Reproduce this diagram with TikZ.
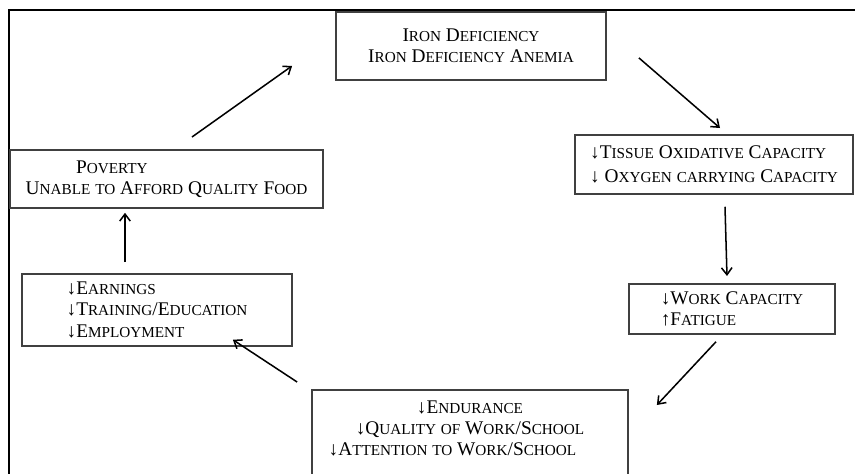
\documentclass[tikz,border=0pt]{standalone}
\usepackage{fontspec}
\setmainfont{Liberation Serif}
\usetikzlibrary{arrows.meta}
% capital letter, then the rest in smaller capitals
\newcommand\sck[2]{#1{\fontsize{13}{14}\selectfont #2}}

\begin{document}
\begin{tikzpicture}[x=0.03cm, y=-0.03cm,
  box/.style={draw=black!75, line width=1.5pt, inner sep=4pt, anchor=north,
    font=\fontsize{16.5}{18}\selectfont},
  arr/.style={-{Straight Barb[length=6pt,width=9pt]}, line width=1.3pt}]
\clip (0,0) rectangle (855,474);

% Frame
\draw[line width=2.2pt] (855,10) -- (9,10) -- (9,474);

% Boxes of the cycle
\node[box, minimum width=8.1cm, minimum height=2.04cm, align=center] (iron) at (471,11)
  {\sck{I}{RON} \sck{D}{EFICIENCY}\\ \sck{I}{RON} \sck{D}{EFICIENCY} \sck{A}{NEMIA}};
\node[box, minimum width=8.34cm, minimum height=1.77cm, align=left] (oxid) at (714,134)
  {↓\sck{T}{ISSUE} \sck{O}{XIDATIVE} \sck{C}{APACITY}\\[3pt]
   ↓ \sck{O}{XYGEN} \sck{}{CARRYING} \sck{C}{APACITY}};
\node[box, minimum width=6.18cm, minimum height=1.5cm, align=left] (work) at (732,283)
  {↓\sck{W}{ORK} \sck{C}{APACITY}\\ ↑\sck{F}{ATIGUE}};
\node[box, minimum width=9.48cm, align=center, inner ysep=9pt, text depth=30pt] (endur) at (470,389)
  {↓\sck{E}{NDURANCE}\\ ↓\sck{Q}{UALITY} \sck{}{OF} \sck{W}{ORK}/\sck{S}{CHOOL}\\
   ↓\sck{A}{TTENTION} \sck{}{TO} \sck{W}{ORK}/\sck{S}{CHOOL}\hspace*{30pt}};
\node[box, minimum width=8.1cm, minimum height=2.16cm, align=left] (earn) at (157,273)
  {↓\sck{E}{ARNINGS}\\ ↓\sck{T}{RAINING}/\sck{E}{DUCATION}\\ ↓\sck{E}{MPLOYMENT}};
\node[box, minimum width=9.39cm, minimum height=1.74cm, align=left] (poverty) at (166.5,149)
  {\hspace*{43pt}\sck{P}{OVERTY}\\
   \sck{U}{NABLE} \sck{}{TO} \sck{A}{FFORD} \sck{Q}{UALITY} \sck{F}{OOD}};

% Arrows round the cycle
\draw[arr] ([shift={(25.5,-12)}]poverty.north) -- ([shift={(-43,20)}]iron.west);
\draw[arr] ([shift={(32,12)}]iron.east) -- ([shift={(6,-6)}]oxid.north);
\draw[arr] ([shift={(11,12)}]oxid.south) -- ([shift={(-5,-7)}]work.north);
\draw[arr] ([shift={(-16,7)}]work.south) -- ([shift={(28,16)}]endur.north east);
\draw[arr] ([shift={(-14,-7)}]endur.north west) -- ([shift={(-60,-7)}]earn.south east);
\draw[arr] ([shift={(-32,-11)}]earn.north) -- ([shift={(-41.5,4)}]poverty.south);
\end{tikzpicture}
\end{document}
